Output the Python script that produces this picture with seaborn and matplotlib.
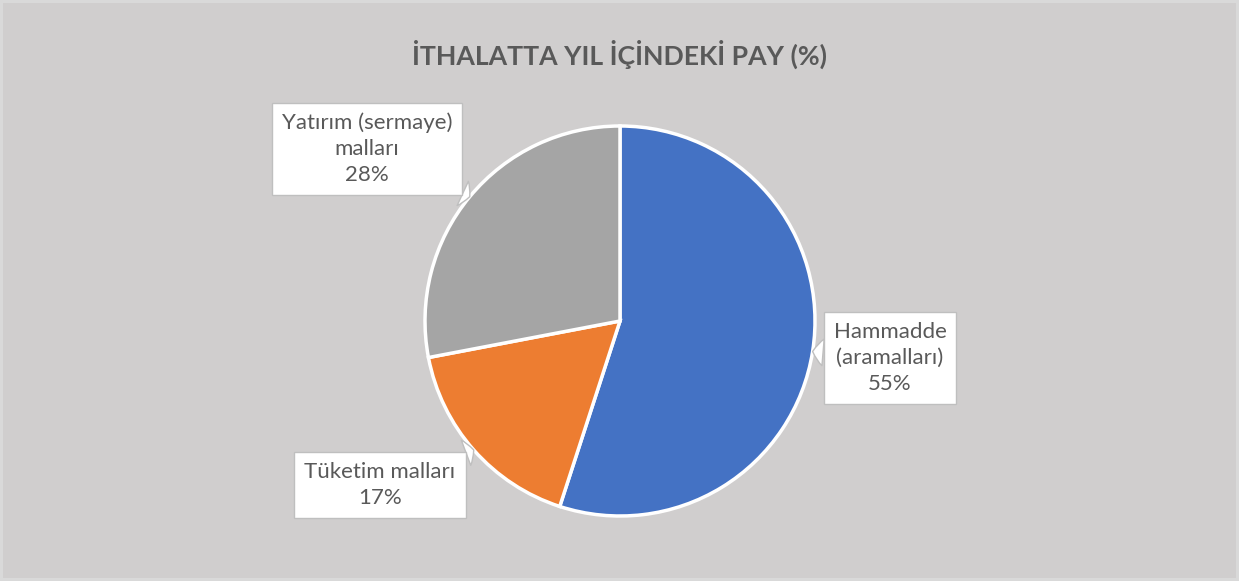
import numpy as np
import seaborn as sns
import matplotlib.pyplot as plt

# data
categories = ["Hammadde\n(aramalları)", "Tüketim malları", "Yatırım (sermaye)\nmalları"]
shares = [55, 17, 28]
colors = ["#4472C4", "#ED7D31", "#A5A5A5"]
title = "İTHALATTA YIL İÇİNDEKİ PAY (%)"

sns.set_theme(style="white")
plt.rcParams["font.family"] = ["Lato", "DejaVu Sans"]

bg = "#D0CECE"
txt = "#595959"

fig = plt.figure(figsize=(12.39, 5.81), dpi=100, facecolor=bg)
fig.patch.set_edgecolor("#D9D9D9")
fig.patch.set_linewidth(3)
ax = fig.add_axes([0, 0, 1, 1])
ax.set_facecolor(bg)

# pixel-like coordinates, y up
cx, cy, r = 620, 260, 195
wedges, _ = ax.pie(shares, colors=colors, startangle=90, counterclock=False,
                   center=(cx, cy), radius=r,
                   wedgeprops=dict(edgecolor="white", linewidth=2.5))
ax.set_xlim(0, 1239)
ax.set_ylim(0, 581)
ax.set_aspect("equal")
ax.axis("off")

# label boxes (centre of text box in pixels)
box_pos = [(890, 223), (380, 96), (367, 432)]
for w, lab, val, pos in zip(wedges, categories, shares, box_pos):
    ang = np.deg2rad((w.theta1 + w.theta2) / 2)
    xy = (cx + r * np.cos(ang), cy + r * np.sin(ang))
    ax.annotate(f"{lab}\n{val}%", xy=xy, xytext=pos,
                ha="center", va="center", fontsize=16, color=txt,
                linespacing=1.38,
                bbox=dict(boxstyle="square,pad=0.45", fc="white", ec="#BFBFBF", lw=1),
                arrowprops=dict(arrowstyle="wedge,tail_width=1.2,shrink_factor=0.6",
                                fc="white", ec="#BFBFBF", lw=1,
                                shrinkA=0, shrinkB=0))

fig.text(0.5, 1 - 54 / 581, title, ha="center", va="center",
         fontsize=19.2, fontweight="bold", color=txt)

fig.savefig("out.png", dpi=100, facecolor=bg)
